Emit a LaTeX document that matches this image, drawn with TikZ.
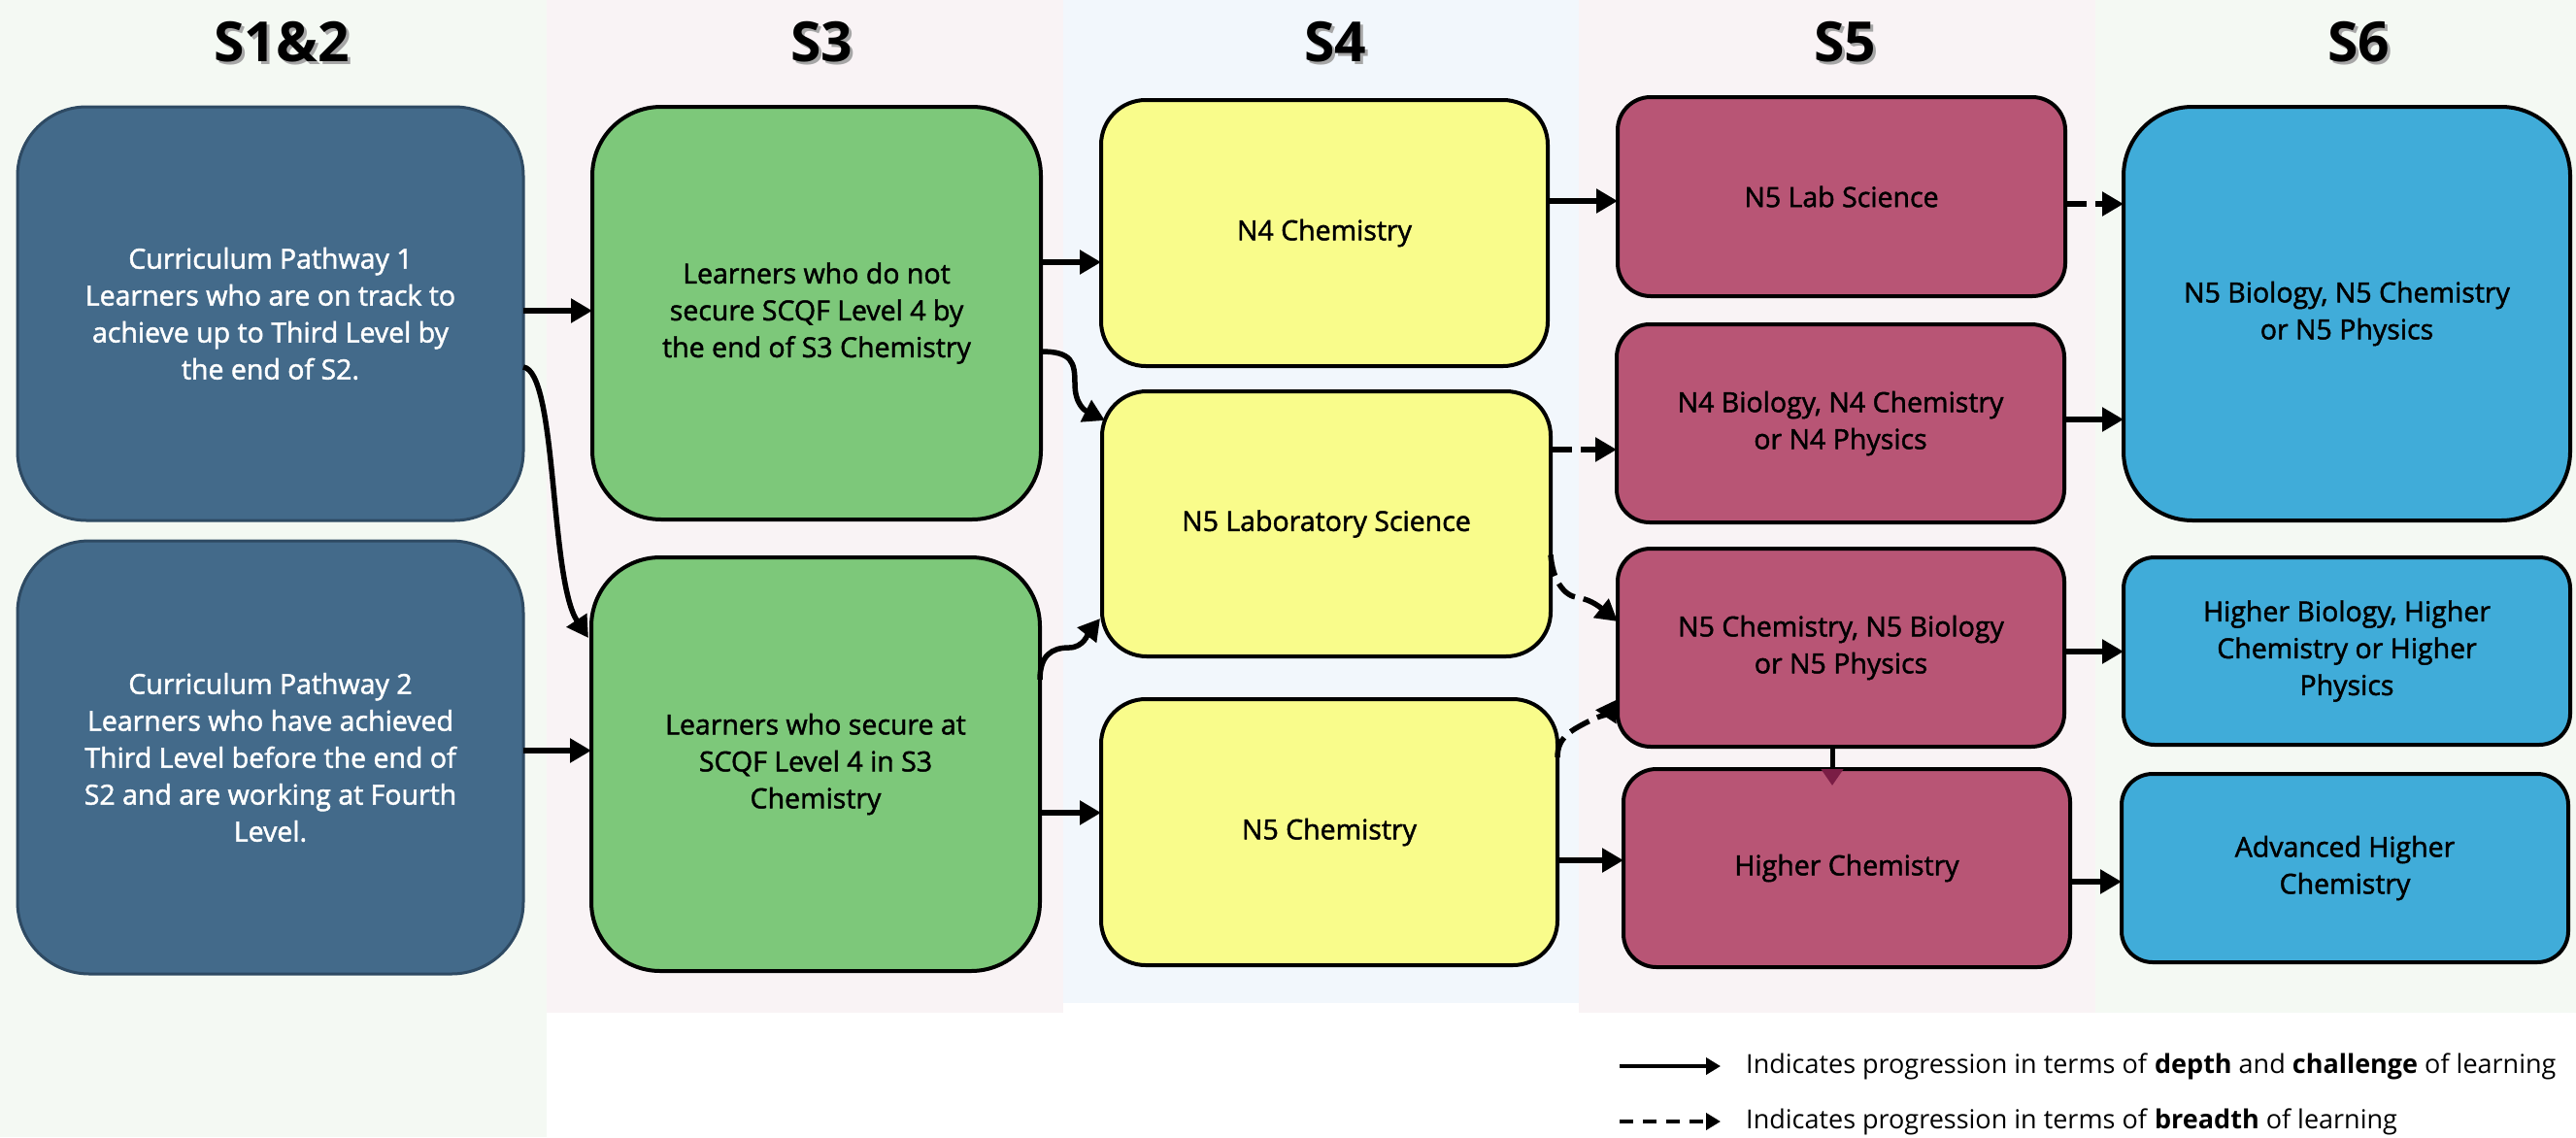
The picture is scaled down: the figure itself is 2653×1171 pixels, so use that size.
\documentclass[tikz,border=0pt]{standalone}
\usepackage{fontspec}
\setmainfont{Open Sans}
\newfontfamily\semifam{Open Sans}[FakeBold=1.6]
\usetikzlibrary{arrows.meta,calc}
\definecolor{pathfill}{HTML}{436A8A}
\definecolor{pathdraw}{HTML}{2E4A63}
\definecolor{greenfill}{HTML}{7DC87A}
\definecolor{yellowfill}{HTML}{F9FC8B}
\definecolor{maroonfill}{HTML}{B85575}
\definecolor{maroondark}{HTML}{7A1D45}
\definecolor{bluefill}{HTML}{40ACD9}
\definecolor{panelgreen}{HTML}{F4F9F3}
\definecolor{panelpink}{HTML}{F9F3F5}
\definecolor{panelblue}{HTML}{F2F7FC}
\newcommand\shtext[1]{\makebox[0pt][l]{\hspace{3pt}\raisebox{-3pt}{\textcolor{black!35}{#1}}}#1}
\newcommand\myboxfont{\semifam\fontsize{28.5pt}{38pt}\selectfont}
\newcommand\myheadfont{\fontsize{57pt}{60pt}\selectfont\bfseries}
\newcommand\mylegfont{\fontsize{27pt}{32pt}\selectfont}
\newcommand\hconn[5]{\coordinate (#5) at ($(#2.east)+(0,#3)$);\draw[#1] (#5) -- (#5 -| #4.west);}
\begin{document}
\begin{tikzpicture}[x=1pt,y=-1pt,
  box/.style={rectangle, align=center, inner sep=0pt, outer sep=0pt, draw=black, line width=4pt, font=\myboxfont},
  pathbox/.style={box, fill=pathfill, draw=pathdraw, line width=3pt, text=white},
  greenbox/.style={box, fill=greenfill},
  yellowbox/.style={box, fill=yellowfill},
  maroonbox/.style={box, fill=maroonfill},
  bluebox/.style={box, fill=bluefill},
  header/.style={anchor=base, font=\myheadfont},
  arr/.style={line width=5.5pt, -{Triangle[length=22pt,width=24pt]}},
  darr/.style={arr, dash pattern=on 22pt off 9pt},
  legarr/.style={line width=4pt, -{Triangle[length=15pt,width=17pt]}},
  legtext/.style={anchor=west, font=\mylegfont, inner sep=0pt}
]
\useasboundingbox (0,0) rectangle (2653,1171);
\fill[white] (0,0) rectangle (2653,1171);
% column panels
\fill[panelgreen] (0,0) rectangle (563,1171);
\fill[panelpink] (563,0) rectangle (1095,1043);
\fill[panelblue] (1095,0) rectangle (1626,1033);
\fill[panelpink] (1626,0) rectangle (2158,1043);
\fill[panelgreen] (2158,0) rectangle (2653,1043);
% headers
\node[header] (h1) at (290,63) {\shtext{S1\&2}};
\node[header] (h2) at (846,63) {\shtext{S3}};
\node[header] (h3) at (1375,63) {\shtext{S4}};
\node[header] (h4) at (1900,63) {\shtext{S5}};
\node[header] (h5) at (2429,63) {\shtext{S6}};
% S1&2
\node[pathbox, minimum width=521pt, minimum height=426pt, rounded corners=71pt] (P1) at (278.5,323)
  {Curriculum Pathway 1\\Learners who are on track to\\achieve up to Third Level by\\the end of S2.};
\node[pathbox, minimum width=521pt, minimum height=446pt, rounded corners=74pt] (P2) at (278.5,780)
  {Curriculum Pathway 2\\Learners who have achieved\\Third Level before the end of\\S2 and are working at Fourth\\Level.};
% S3
\node[greenbox, minimum width=462pt, minimum height=425pt, rounded corners=71pt] (G1) at (841,322.5)
  {Learners who do not\\secure SCQF Level 4 by\\the end of S3 Chemistry};
\node[greenbox, minimum width=462pt, minimum height=426pt, rounded corners=71pt] (G2) at (840,787)
  {Learners who secure at\\SCQF Level 4 in S3\\Chemistry};
% S4
\node[yellowbox, minimum width=460pt, minimum height=274pt, rounded corners=46pt] (Y1) at (1364,240) {N4 Chemistry};
\node[yellowbox, minimum width=462pt, minimum height=273pt, rounded corners=46pt] (Y2) at (1366,539.5) {N5 Laboratory Science};
\node[yellowbox, minimum width=470pt, minimum height=274pt, rounded corners=46pt] (Y3) at (1369,857) {N5 Chemistry};
% S5
\node[maroonbox, minimum width=461pt, minimum height=205pt, rounded corners=34pt] (M1) at (1896.5,202.5) {N5 Lab Science};
\node[maroonbox, minimum width=461pt, minimum height=204pt, rounded corners=34pt] (M2) at (1895.5,436) {N4 Biology, N4 Chemistry\\or N4 Physics};
\node[maroonbox, minimum width=460pt, minimum height=204pt, rounded corners=34pt] (M3) at (1896,667) {N5 Chemistry, N5 Biology\\or N5 Physics};
\node[maroonbox, minimum width=460pt, minimum height=204pt, rounded corners=34pt] (M4) at (1902,894) {Higher Chemistry};
% S6
\node[bluebox, minimum width=460pt, minimum height=426pt, rounded corners=71pt] (B1) at (2417,323) {N5 Biology, N5 Chemistry\\or N5 Physics};
\node[bluebox, minimum width=460pt, minimum height=193pt, rounded corners=32pt] (B2) at (2417,670.5) {Higher Biology, Higher\\Chemistry or Higher\\Physics};
\node[bluebox, minimum width=460pt, minimum height=194pt, rounded corners=32pt] (B3) at (2415,894) {Advanced Higher\\Chemistry};
% straight connectors
\hconn{arr}{P1}{-3}{G1}{c1}
\hconn{arr}{P2}{-7}{G2}{c2}
\hconn{arr}{G1}{-52.5}{Y1}{c3}
\hconn{arr}{G2}{50}{Y3}{c4}
\hconn{arr}{Y1}{-33}{M1}{c5}
\hconn{darr}{Y2}{-76.5}{M2}{c6}
\hconn{arr}{Y3}{29}{M4}{c7}
\hconn{darr}{M1}{7.5}{B1}{c8}
\hconn{arr}{M2}{-4}{B1}{c9}
\hconn{arr}{M3}{4}{B2}{c10}
\hconn{arr}{M4}{14}{B3}{c11}
% curved connectors
\coordinate (s1) at ($(P1.east)+(0,55)$);
\coordinate (e1) at ($(G2.west)+(-3,-130)$);
\draw[arr] (s1) .. controls +(35,5) and +(-40,-60) .. (e1);
\coordinate (s2) at ($(G1.east)+(0,39.5)$);
\coordinate (e2) at ($(Y2.north west)+(3,30)$);
\draw[arr] (s2) .. controls +(32,0) and +(0,-22) .. ++(35,33) .. controls +(0,22) and +(-20,-10) .. (e2);
\coordinate (s3) at ($(G2.east)+(0,-87)$);
\coordinate (e3) at ($(Y2.south west)+(-2,-39)$);
\draw[arr] (s3) .. controls +(0,-25) and +(-18,0) .. ++(30,-33) .. controls +(15,0) and +(-12,15) .. (e3);
\coordinate (s4) at ($(Y2.east)+(0,32)$);
\coordinate (e4) at ($(M3.west)+(0,-27)$);
\draw[darr] (s4) .. controls +(2,25) and +(-15,-2) .. ++(28,44) .. controls +(15,2) and +(-15,-12) .. (e4);
\coordinate (s5) at ($(Y3.east)+(0,-77)$);
\coordinate (e5) at ($(M3.west)+(0,53)$);
\draw[darr] (s5) .. controls +(0,-20) and +(-15,8) .. ++(28,-35) .. controls +(15,-8) and +(-10,15) .. (e5);
% vertical connector S5
\coordinate (v1) at ($(M3.south)+(-9,0)$);
\draw[line width=5pt, -{Triangle[length=17pt,width=22pt,color=maroondark]}, shorten >=-17pt] (v1) -- (v1 |- M4.north);
% legend
\coordinate (la) at (1668,1098);
\coordinate (lb) at (1772,1098);
\coordinate (lc) at (1668,1155);
\coordinate (ld) at (1772,1155);
\draw[legarr] (la) -- (lb);
\draw[legarr, dash pattern=on 14pt off 10pt] (lc) -- (ld);
\node[legtext] (lt1) at (1798,1098) {Indicates progression in terms of \textbf{depth} and \textbf{challenge} of learning};
\node[legtext] (lt2) at (1798,1155) {Indicates progression in terms of \textbf{breadth} of learning};
\end{tikzpicture}
\end{document}
